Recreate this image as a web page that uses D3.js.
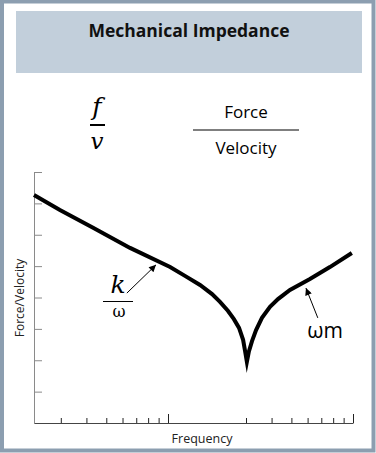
<!DOCTYPE html>
<html>
<head>
<meta charset="utf-8">
<script src="https://cdn.jsdelivr.net/npm/d3@7"></script>
<style>
  body { margin: 0; background: #ffffff; }
  svg { display: block; }
</style>
</head>
<body>
<svg id="chart"></svg>
<script>
// Curve: frequency (log axis) and impedance level (decades)
const curveFreq  = [2.22, 2.97, 4.31, 6.53, 10.3, 12.7, 15.7, 18.6, 20.8, 23.3, 25.3, 27.2, 28.8, 29.6,
                    30.3, 31.0, 32.1, 33.6, 35.9, 39.3, 43.0, 49.2, 61.6, 77.1, 98.7];
const curveLevel = [7.27, 6.79, 6.22, 5.58, 4.97, 4.69, 4.40, 4.11, 3.86, 3.57, 3.31, 3.03, 2.65, 2.30,
                    1.95, 2.28, 2.61, 2.96, 3.35, 3.70, 3.95, 4.24, 4.59, 4.97, 5.42];

// Tick values
const minorFreqTicks = [3, 4, 5, 6, 7, 8, 9, 30, 40, 50, 60, 70, 80, 90];
const majorFreqTicks = [10, 100];
const levelTicks = [1, 2, 3, 4, 5, 6, 7, 8];

// Annotation arrows [from, to] in data units
const stiffnessArrow = [[6.3, 4.14], [8.74, 5.04]];
const massArrow = [[67.3, 3.35], [58.9, 4.30]];

const svgWidth = 376, svgHeight = 453;
const margin = { top: 172, right: 23, bottom: 30, left: 34 };
const chartWidth = svgWidth - margin.left - margin.right;
const chartHeight = svgHeight - margin.top - margin.bottom;

const svg = d3.select("#chart")
    .attr("width", svgWidth)
    .attr("height", svgHeight);

// Outer frame
svg.append("rect")
    .attr("x", 2).attr("y", 1.5)
    .attr("width", svgWidth - 4.5).attr("height", svgHeight - 4)
    .attr("fill", "#ffffff")
    .attr("stroke", "#8c9eb0")
    .attr("stroke-width", 4);

// Title band
svg.append("rect")
    .attr("x", 16).attr("y", 11)
    .attr("width", 346).attr("height", 62)
    .attr("fill", "#c2cfdb");

svg.append("text")
    .attr("x", 189).attr("y", 37)
    .attr("text-anchor", "middle")
    .style("font-family", "'Open Sans', sans-serif")
    .style("font-weight", "700")
    .style("font-size", "17.5px")
    .style("fill", "#111")
    .text("Mechanical Impedance");

// f / v formula
const serif = "'DejaVu Serif', 'Liberation Serif', serif";
svg.append("text")
    .attr("x", 97).attr("y", 115)
    .attr("text-anchor", "middle")
    .style("font-family", serif).style("font-style", "italic")
    .style("font-size", "25px")
    .text("f");
svg.append("line")
    .attr("x1", 90).attr("x2", 105).attr("y1", 125).attr("y2", 125)
    .attr("stroke", "#000").attr("stroke-width", 2);
svg.append("text")
    .attr("x", 97).attr("y", 149)
    .attr("text-anchor", "middle")
    .style("font-family", serif).style("font-style", "italic")
    .style("font-size", "23px")
    .text("v");

// Force / Velocity formula
svg.append("text")
    .attr("x", 246).attr("y", 118)
    .attr("text-anchor", "middle")
    .style("font-family", "'Open Sans', sans-serif")
    .style("font-size", "17px")
    .text("Force");
svg.append("line")
    .attr("x1", 193).attr("x2", 299).attr("y1", 130).attr("y2", 130)
    .attr("stroke", "#000").attr("stroke-width", 1.2);
svg.append("text")
    .attr("x", 246).attr("y", 154)
    .attr("text-anchor", "middle")
    .style("font-family", "'Open Sans', sans-serif")
    .style("font-size", "17px")
    .text("Velocity");

const chart = svg.append("g")
    .attr("transform", `translate(${margin.left},${margin.top})`);

// Log frequency axis drawn with a break between the two decades
const x = d3.scaleLog()
    .domain([2.22, 10, 30, 100])
    .range([0, 134, 212, chartWidth]);
const y = d3.scaleLinear()
    .domain([0, 8])
    .range([chartHeight, 0]);

// Y axis (grey, inward ticks)
const yAxis = chart.append("g")
    .call(d3.axisLeft(y).tickValues(levelTicks).tickSize(-8).tickSizeOuter(0).tickFormat(""));
yAxis.selectAll("path, line").attr("stroke", "#8a8a8a");

// X axis: minor and major inward ticks
const xAxis = chart.append("g")
    .attr("transform", `translate(0,${chartHeight})`)
    .call(d3.axisBottom(x).tickValues(minorFreqTicks).tickSize(-5).tickSizeOuter(0).tickFormat(""));
const xMajor = chart.append("g")
    .attr("transform", `translate(0,${chartHeight})`)
    .call(d3.axisBottom(x).tickValues(majorFreqTicks).tickSize(-9).tickSizeOuter(0).tickFormat(""));
xMajor.select(".domain").remove();
xAxis.selectAll(".tick line").attr("stroke", "#222");
xMajor.selectAll(".tick line").attr("stroke", "#222");
xAxis.select(".domain").attr("stroke", "#444");

// Axis labels
svg.append("text")
    .attr("transform", "translate(24,298) rotate(-90)")
    .attr("text-anchor", "middle")
    .style("font-family", "'Open Sans', sans-serif")
    .style("font-size", "12px")
    .style("fill", "#222")
    .text("Force/Velocity");
svg.append("text")
    .attr("x", 202).attr("y", 443)
    .attr("text-anchor", "middle")
    .style("font-family", "'Open Sans', sans-serif")
    .style("font-size", "12.5px")
    .style("fill", "#222")
    .text("Frequency");

// Impedance curve
const line = d3.line()
    .x(d => x(d[0]))
    .y(d => y(d[1]));
chart.append("path")
    .datum(curveFreq.map((f, i) => [f, curveLevel[i]]))
    .attr("d", line)
    .attr("fill", "none")
    .attr("stroke", "#000")
    .attr("stroke-width", 4)
    .attr("stroke-linejoin", "miter")
    .attr("stroke-miterlimit", 10);

// Arrow marker
svg.append("defs").append("marker")
    .attr("id", "arrowhead")
    .attr("viewBox", "0 0 10 10")
    .attr("refX", 10).attr("refY", 5)
    .attr("markerWidth", 9).attr("markerHeight", 7)
    .attr("markerUnits", "userSpaceOnUse")
    .attr("orient", "auto")
    .append("path")
    .attr("d", "M0,0 L10,5 L0,10 z")
    .attr("fill", "#000");

[stiffnessArrow, massArrow].forEach(a => {
    chart.append("line")
        .attr("x1", x(a[0][0])).attr("y1", y(a[0][1]))
        .attr("x2", x(a[1][0])).attr("y2", y(a[1][1]))
        .attr("stroke", "#000").attr("stroke-width", 1)
        .attr("marker-end", "url(#arrowhead)");
});

// k / omega label
svg.append("text")
    .attr("x", 118).attr("y", 293)
    .attr("text-anchor", "middle")
    .style("font-family", serif).style("font-style", "italic")
    .style("font-size", "25px")
    .text("k");
svg.append("line")
    .attr("x1", 103).attr("x2", 133).attr("y1", 301.5).attr("y2", 301.5)
    .attr("stroke", "#000").attr("stroke-width", 1);
svg.append("text")
    .attr("x", 119).attr("y", 317)
    .attr("text-anchor", "middle")
    .style("font-family", serif)
    .style("font-size", "16px")
    .text("ω");

// omega m label
svg.append("text")
    .attr("x", 325).attr("y", 338)
    .attr("text-anchor", "middle")
    .style("font-family", "'Open Sans', sans-serif")
    .style("font-size", "21px")
    .text("ωm");
</script>
</body>
</html>
